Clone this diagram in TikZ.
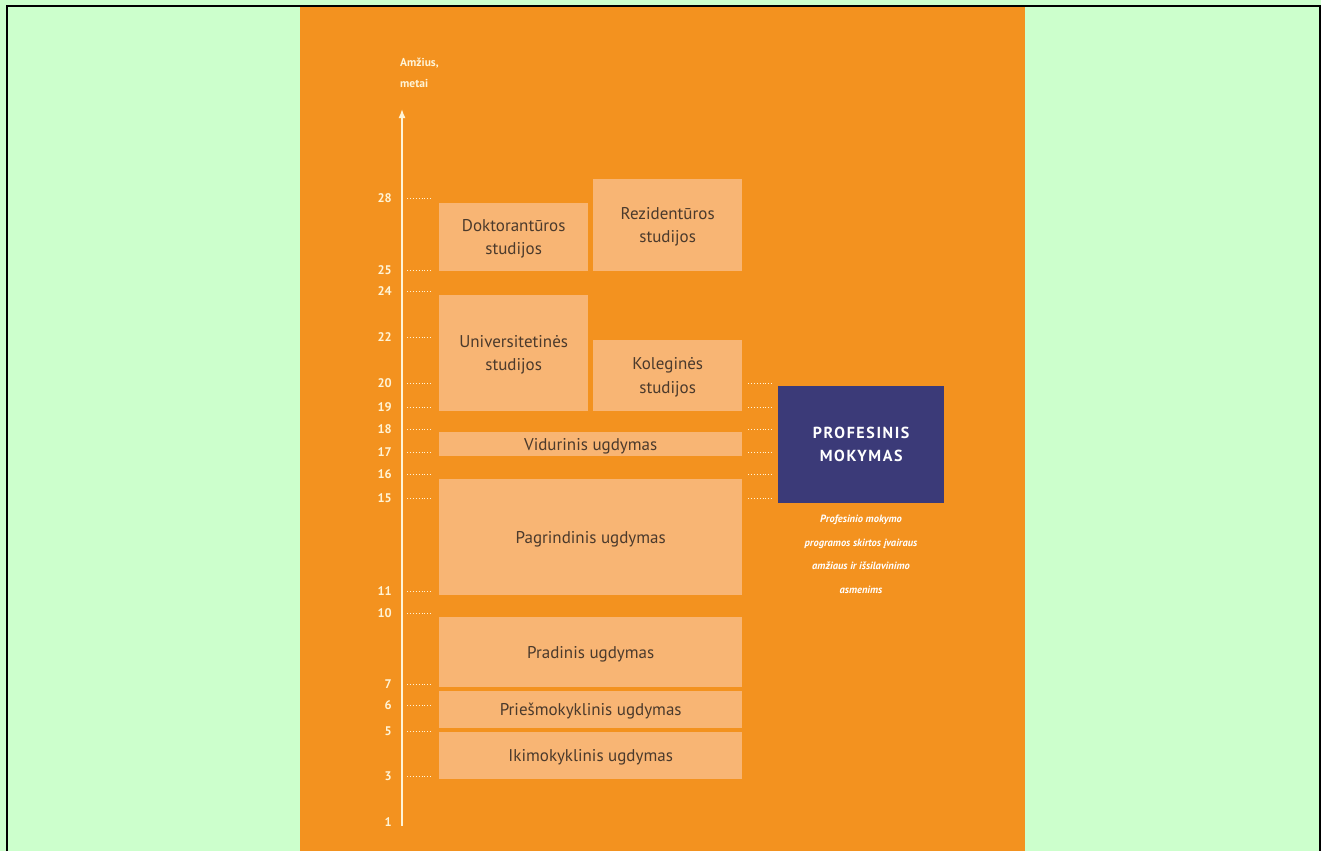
\documentclass[tikz,border=0pt]{standalone}
\usepackage{fontspec}
\setmainfont{PT Sans}
\usetikzlibrary{arrows.meta}
\definecolor{bggreen}{HTML}{CCFFCC}
\definecolor{panel}{HTML}{F3921F}
\definecolor{stagefill}{HTML}{F8B574}
\definecolor{stagetext}{HTML}{4B3A2C}
\definecolor{vocfill}{HTML}{3B3A78}
\definecolor{axiscol}{HTML}{FFF4D6}

\begin{document}
\begin{tikzpicture}[x=1pt,y=-1pt,
  stage/.style={fill=stagefill, anchor=north west, inner sep=0pt, text=stagetext,
    align=center, text depth=0pt, font=\fontsize{17}{23.5}\selectfont},
  age/.style={anchor=east, text=axiscol, inner sep=0pt,
    font=\bfseries\fontsize{12.5}{12.5}\selectfont},
  agetick/.style={axiscol, dotted, line width=0.9pt},
  vocbox/.style={fill=vocfill, anchor=north west, inner sep=0pt, text=white,
    align=center, text depth=0pt,
    font=\bfseries\fontsize{16}{23}\selectfont\addfontfeature{LetterSpace=10}},
  note/.style={anchor=north, text=white, align=center, inner sep=0pt,
    font=\bfseries\itshape\fontsize{10.5}{23.5}\selectfont},
  axislabel/.style={anchor=north west, text=axiscol, align=left, inner sep=0pt,
    font=\bfseries\fontsize{11.5}{21}\selectfont},
]
\useasboundingbox (0,0) rectangle (1321,851);
% background and outer frame
\fill[bggreen] (0,0) rectangle (1321,851);
\fill[panel] (300,7) rectangle (1025,851);
\draw[black, line width=2pt] (6.5,851) -- (6.5,6.5) -- (1319.5,6.5) -- (1319.5,851);

% age axis
\coordinate (axisbot) at (402,826);
\coordinate (axistop) at (402,109);
\draw[axiscol, line width=1.6pt, -{Latex[length=9pt,width=7pt]}] (axisbot) -- (axistop);
\node[axislabel] (axisname) at (400,58) {Amžius,\\metai};

% age marks
\foreach \a/\y in {28/198,25/270,24/291,22/337,20/383,19/407,18/429,17/452,16/474,15/498,
                   11/591,10/613,7/684,6/705,5/731,3/776,1/822}{
  \node[age] (a\a) at (392,\y) {\a};
}
\foreach \a in {28,25,24,22,20,19,18,17,16,15,11,10,7,6,5,3}{
  \draw[agetick] ([xshift=15pt]a\a.east) -- ([xshift=40pt]a\a.east);
}
\foreach \a in {20,19,18,17,16,15}{
  \draw[agetick] ([xshift=356pt]a\a.east) -- ([xshift=380pt]a\a.east);
}

% education stages
\node[stage, minimum width=149pt, minimum height=68pt] (doktor) at (439,203) {Doktorantūros\\studijos};
\node[stage, minimum width=149pt, minimum height=92pt] (rezid) at (593,179) {Rezidentūros\\studijos};
\node[stage, minimum width=149pt, minimum height=116pt] (univ) at (439,295) {Universitetinės\\studijos};
\node[stage, minimum width=149pt, minimum height=71pt] (koleg) at (593,340) {Koleginės\\studijos};
\node[stage, minimum width=303pt, minimum height=24pt] (vidur) at (439,432) {Vidurinis ugdymas};
\node[stage, minimum width=303pt, minimum height=116pt] (pagr) at (439,479) {Pagrindinis ugdymas};
\node[stage, minimum width=303pt, minimum height=70pt] (prad) at (439,617) {Pradinis ugdymas};
\node[stage, minimum width=303pt, minimum height=37pt] (priesm) at (439,691) {Priešmokyklinis ugdymas};
\node[stage, minimum width=303pt, minimum height=47pt] (ikim) at (439,732) {Ikimokyklinis ugdymas};

% vocational training
\node[vocbox, minimum width=166pt, minimum height=117pt] (prof) at (778,386) {PROFESINIS\\MOKYMAS};
\node[note] (profnote) at (861,515) {Profesinio mokymo\\programos skirtos įvairaus\\amžiaus ir išsilavinimo\\asmenims};
\end{tikzpicture}
\end{document}
